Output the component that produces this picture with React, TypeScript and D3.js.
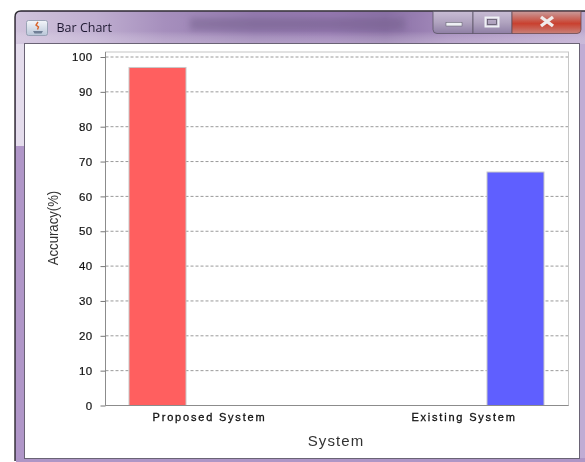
import React, { useEffect, useRef } from "react";
import * as d3 from "d3";

const categories = ["Proposed System", "Existing System"];
const accuracy = [97, 67];
const barColors = ["#ff5f5f", "#5f5fff"];
const yTicks = [0, 10, 20, 30, 40, 50, 60, 70, 80, 90, 100];
const title = "Bar Chart";
const xTitle = "System";
const yTitle = "Accuracy(%)";
const FONT = "'Liberation Sans', Arial, sans-serif";

export default function App() {
  const axisRef = useRef<SVGGElement>(null);
  const y = d3.scaleLinear().domain([0, 100]).range([405.5, 57]);
  const barW = 57;
  const barX = [129, 487];

  useEffect(() => {
    const g = d3.select(axisRef.current!);
    g.selectAll("*").remove();
    const ax = d3.axisLeft(y).tickValues(yTicks).tickSize(5).tickPadding(8);
    g.attr("transform", "translate(105.5,0)").call(ax as any);
    g.select(".domain").attr("stroke", "#8c8c8c").attr("d", "M0,52V405.5");
    g.selectAll("line").attr("stroke", "#777");
    g.selectAll("text")
      .attr("fill", "#111")
      .attr("stroke", "#111")
      .attr("stroke-width", 0.2)
      .attr("font-family", FONT)
      .attr("font-size", 11.5)
      .attr("letter-spacing", 0.4);
  }, []);

  return (
    <svg
      width={585}
      height={462}
      style={{ position: "fixed", left: 0, top: 0, display: "block", background: "#fff" }}
    >
      <defs>
        <linearGradient id="frameTop" x1="0" x2="1" y1="0" y2="0">
          <stop offset="0" stopColor="#d0c3dc" />
          <stop offset="0.14" stopColor="#bfaed0" />
          <stop offset="0.26" stopColor="#a68fbd" />
          <stop offset="0.42" stopColor="#937aae" />
          <stop offset="0.55" stopColor="#9478b0" />
          <stop offset="0.65" stopColor="#8a70a5" />
          <stop offset="0.76" stopColor="#a48bbc" />
          <stop offset="1" stopColor="#bda9cf" />
        </linearGradient>
        <linearGradient id="titleShade" x1="0" x2="0" y1="0" y2="1">
          <stop offset="0.6" stopColor="#fff" stopOpacity="0" />
          <stop offset="1" stopColor="#d9cbe4" stopOpacity="0.45" />
        </linearGradient>
        <linearGradient id="closeBtn" x1="0" x2="0" y1="0" y2="1">
          <stop offset="0" stopColor="#c99a9a" />
          <stop offset="0.55" stopColor="#c9412f" />
          <stop offset="1" stopColor="#c98078" />
        </linearGradient>
        <linearGradient id="ctrlBtn" x1="0" x2="0" y1="0" y2="1">
          <stop offset="0" stopColor="#c8bcd4" />
          <stop offset="0.5" stopColor="#b0a3bf" />
          <stop offset="1" stopColor="#8f7fa5" />
        </linearGradient>
        <linearGradient id="iconFill" x1="0" x2="0" y1="0" y2="1">
          <stop offset="0" stopColor="#f4f6fa" />
          <stop offset="1" stopColor="#b9c6d8" />
        </linearGradient>
        <filter id="soft" x="-2%" y="-2%" width="104%" height="104%">
          <feGaussianBlur stdDeviation="0.5" />
        </filter>
        <filter id="softBig" x="-5%" y="-50%" width="110%" height="200%">
          <feGaussianBlur stdDeviation="3" />
        </filter>
      </defs>

      <g filter="url(#soft)">
        {/* window frame */}
        <path d="M15,461V17Q15,11,21,11H585V461Z" fill="#b096c8" />
        <rect x={16} y={12} width={569} height={32} fill="url(#frameTop)" />
        <rect x={16} y={12} width={569} height={32} fill="url(#titleShade)" />
        <rect x={190} y={18} width={215} height={12} fill="#75608c" opacity={0.5} filter="url(#softBig)" />
        <path d="M15,461V17Q15,11,21,11H585" fill="none" stroke="#2c2a30" strokeWidth={1.4} />
        <rect x={16} y={44} width={8} height={102} fill="#e4dcec" />
        <rect x={580} y={44} width={5} height={418} fill="#c0acd4" />
        <rect x={16} y={458} width={569} height={4} fill="#ae96c6" />

        {/* content pane */}
        <rect x={24.5} y={43.5} width={555} height={415} fill="#fff" stroke="#6a6474" strokeWidth={1} />

        {/* title bar contents */}
        <rect x={26.5} y={20.5} width={21} height={15} rx={2} fill="url(#iconFill)" stroke="#8a97aa" strokeWidth={0.8} />
        <path d="M33,31h10l-1.5,2.5h-7Z" fill="#6f7f96" />
        <path d="M38,22l-2,3l2.5,2l-1,2.5" fill="none" stroke="#d9642a" strokeWidth={1.4} />
        <text x={56.5} y={31.5} fontFamily="'Open Sans', 'Noto Sans', sans-serif" fontSize={12.5} fill="#1d1830">
          {title}
        </text>

        {/* window buttons */}
        <path d="M433,11.5H473V33.5H437Q433,33.5,433,29.5Z" fill="url(#ctrlBtn)" stroke="#5c5566" strokeWidth={0.8} />
        <rect x={473} y={11.5} width={39} height={22} fill="url(#ctrlBtn)" stroke="#5c5566" strokeWidth={0.8} />
        <path d="M512,11.5H581V29.5Q581,33.5,577,33.5H512Z" fill="url(#closeBtn)" stroke="#6b4a50" strokeWidth={0.8} />
        <rect x={446} y={22.5} width={16} height={3.5} fill="#eef0f4" stroke="#5a5a66" strokeWidth={0.5} />
        <rect x={485.5} y={17.5} width={13} height={9} fill="none" stroke="#eef0f4" strokeWidth={2} />
        <rect x={487.5} y={19.5} width={9} height={5} fill="none" stroke="#55505f" strokeWidth={0.7} />
        <path d="M541,17L553,26M553,17L541,26" stroke="#f0ecec" strokeWidth={3.4} />

        {/* plot frame */}
        <rect x={105.5} y={52} width={463} height={353.5} fill="#fff" stroke="#c6c6c6" strokeWidth={1} />
      </g>

      <g filter="url(#soft)">
        {/* grid */}
        {yTicks
          .filter((t) => t > 0)
          .map((t) => (
            <line
              key={t}
              x1={105.5}
              x2={568}
              y1={y(t)}
              y2={y(t)}
              stroke="#9a9a9a"
              strokeWidth={1}
              strokeDasharray="3 2"
            />
          ))}

        {/* bars */}
        {categories.map((c, i) => (
          <rect
            key={c}
            x={barX[i]}
            y={y(accuracy[i])}
            width={barW}
            height={y(0) - y(accuracy[i])}
            fill={barColors[i]}
            stroke="#c8c8c8"
            strokeWidth={1}
          />
        ))}

        <line x1={105.5} x2={568.5} y1={405.5} y2={405.5} stroke="#8c8c8c" strokeWidth={1.2} />
        <g ref={axisRef} />

        {/* category labels */}
        {categories.map((c, i) => (
          <text
            key={c}
            x={i === 0 ? 209.5 : 464}
            y={421}
            textAnchor="middle"
            fontFamily={FONT}
            fontSize={11}
            letterSpacing={1.8}
            stroke="#111"
            strokeWidth={0.3}
            fill="#111"
          >
            {c}
          </text>
        ))}

        <text x={336} y={446} textAnchor="middle" fontFamily={FONT} fontSize={15} letterSpacing={1.1} fill="#333">
          {xTitle}
        </text>
        <text
          transform="translate(58,228) rotate(-90) scale(0.94,1.05)"
          textAnchor="middle"
          fontFamily={FONT}
          fontSize={14}
          fill="#333"
        >
          {yTitle}
        </text>
      </g>
    </svg>
  );
}
